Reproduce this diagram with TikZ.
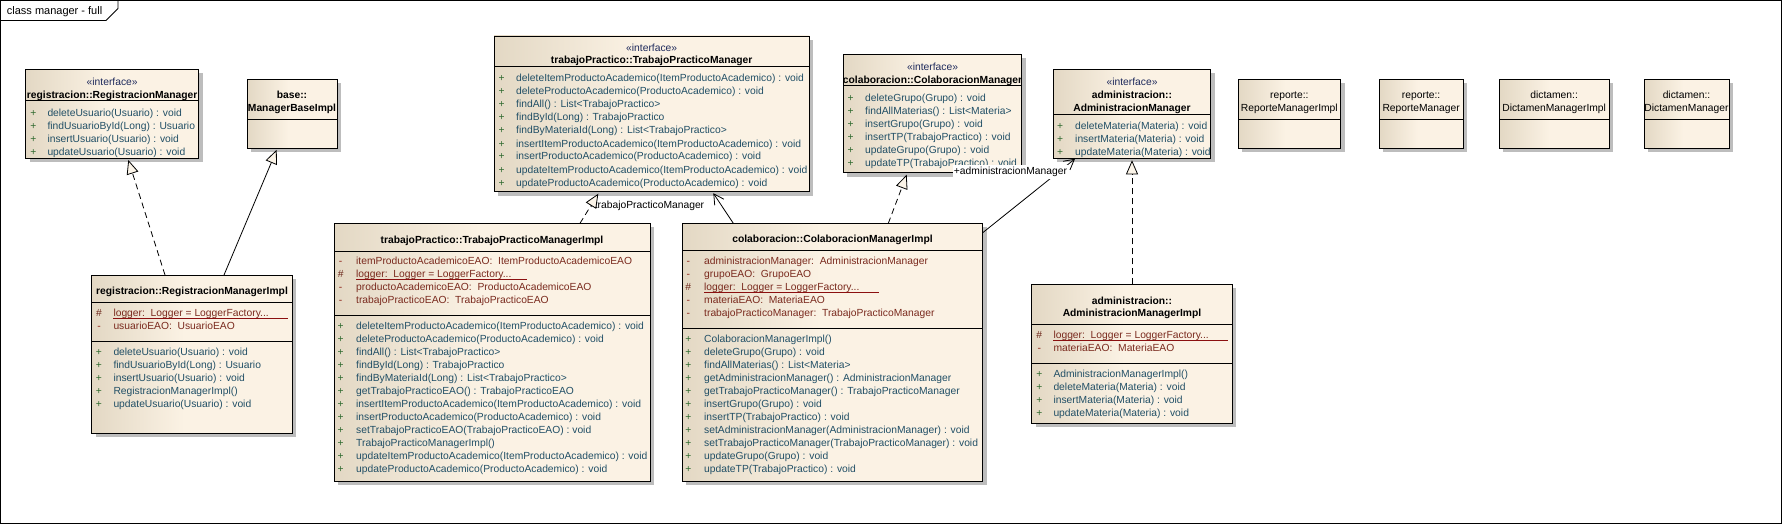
\documentclass[tikz,border=0pt]{standalone}
\usepackage{fontspec}
\setmainfont{Liberation Sans}
\usetikzlibrary{arrows.meta,calc}
\definecolor{boxL}{HTML}{E3D8C4}
\definecolor{boxR}{HTML}{FBF2E4}
\definecolor{shadowc}{HTML}{BDBDBD}
\definecolor{opc}{HTML}{214F66}
\definecolor{atc}{HTML}{7A2A1E}
\definecolor{stc}{HTML}{1E2A5C}
\definecolor{vplus}{HTML}{2F6A2F}
\definecolor{vminus}{HTML}{8E2418}
\definecolor{vhash}{HTML}{6A2418}
\definecolor{ulc}{HTML}{8B1010}
\definecolor{tipfill}{HTML}{FBF4E8}
\pgfdeclarehorizontalshading{clsshade}{100bp}{color(0bp)=(boxL); color(25bp)=(boxL); color(48bp)=(boxR); color(100bp)=(boxR)}
\newcommand\fs{\fontsize{10.3}{12}\selectfont}
\newcommand\vP{\textcolor{vplus}{+}}
\newcommand\vM{\textcolor{vminus}{-}}
\newcommand\vH{\textcolor{vhash}{\#}}
\newcommand\threedots{...}
\tikzset{
 clsbox/.style={draw=black, line width=0.9pt, shading=clsshade, inner sep=0pt, outer sep=0pt},
 sepline/.style={draw=black, line width=0.9pt},
 mem/.style={anchor=base west, inner sep=0pt, font=\fs},
 vis/.style={anchor=base, inner sep=0pt, font=\fs},
 cname/.style={anchor=base, inner sep=0pt, font=\fs\bfseries},
 pname/.style={anchor=base, inner sep=0pt, font=\fs},
 stereo/.style={anchor=base, inner sep=0pt, font=\fs, text=stc},
 real/.style={draw=black, line width=0.8pt, dash pattern=on 6pt off 4pt, -{Triangle[length=14pt,width=12pt,fill=tipfill]}},
 gen/.style={draw=black, line width=0.8pt, -{Triangle[length=14pt,width=12pt,fill=tipfill]}},
 assoc/.style={draw=black, line width=0.8pt, -{Straight Barb[length=10pt,width=11pt]}},
 role/.style={font=\fs, inner sep=0pt, anchor=base},
 ul/.style={draw=ulc, line width=0.9pt},
}
% class box: name, L, T, R, B
\newcommand\umlclass[5]{%
  \fill[shadowc] (#2+4,#3+4) rectangle (#4+4,#5+4);
  \node[clsbox, minimum width={#4-#2}, minimum height={#5-#3}, anchor=north west] (#1) at (#2,#3) {};
}
\newcommand\hsep[3]{\draw[sepline] (#1,#3) -- (#2,#3);}
% rows: prefix, visx, textx, y0, color, list
\newcommand\umlrows[6]{%
  \foreach \sy/\tx [count=\i from 0] in {#6}{%
    \node[vis] (#1v\i) at (#2,#4+13*\i+3.7) {\sy};
    \node[mem,text=#5] (#1t\i) at (#3,#4+13*\i+3.7) {\tx};
  }}
\begin{document}
\begin{tikzpicture}[x=1pt,y=-1pt]
\useasboundingbox (0,0) rectangle (1782,524);
\draw[line width=1pt] (0.5,0.5) rectangle (1781.5,523.5);
\draw[line width=0.9pt] (0,20.5) -- (106,20.5) -- (118,8.5) -- (118,0);
\node[anchor=base west, inner sep=0pt, font=\fontsize{11}{13}\selectfont] (title) at (6.7,15) {class manager - full};

% ---------- registracion::RegistracionManager
\umlclass{rm}{25.7}{69.3}{198.7}{158}
\hsep{25.7}{198.7}{100}
\node[stereo] (rms) at (112.2,82.3+3.7) {«interface»};
\node[cname] (rmn) at (112.2,95+3.7) {registracion::RegistracionManager};
\umlrows{rmo}{33.3}{47.3}{112.7}{opc}{\vP/deleteUsuario(Usuario) : void,
 \vP/findUsuarioById(Long) : Usuario,
 \vP/insertUsuario(Usuario) : void,
 \vP/updateUsuario(Usuario) : void}

% ---------- base::ManagerBaseImpl
\umlclass{mb}{247}{79.3}{337}{148.3}
\hsep{247}{337}{119.3}
\node[cname] (mbn1) at (292,95+3.7) {base::};
\node[cname] (mbn2) at (292,108.3+3.7) {ManagerBaseImpl};

% ---------- trabajoPractico::TrabajoPracticoManager
\umlclass{tpm}{494}{36}{809.3}{191.7}
\hsep{494}{809.3}{66.7}
\node[stereo] (tpms) at (651.65,48.3+3.7) {«interface»};
\node[cname] (tpmn) at (651.65,60+3.7) {trabajoPractico::TrabajoPracticoManager};
\umlrows{tpmo}{501.7}{516}{78.3}{opc}{\vP/deleteItemProductoAcademico(ItemProductoAcademico) : void,
 \vP/deleteProductoAcademico(ProductoAcademico) : void,
 \vP/findAll() : List<TrabajoPractico>,
 \vP/findById(Long) : TrabajoPractico,
 \vP/findByMateriaId(Long) : List<TrabajoPractico>,
 \vP/insertItemProductoAcademico(ItemProductoAcademico) : void,
 \vP/insertProductoAcademico(ProductoAcademico) : void,
 \vP/updateItemProductoAcademico(ItemProductoAcademico) : void,
 \vP/updateProductoAcademico(ProductoAcademico) : void}

% ---------- colaboracion::ColaboracionManager
\umlclass{cm}{843.3}{54.3}{1021.7}{172.7}
\hsep{843.3}{1021.7}{85.7}
\node[stereo] (cms) at (932.5,67.3+3.7) {«interface»};
\node[cname] (cmn) at (932.5,80+3.7) {colaboracion::ColaboracionManager};
\umlrows{cmo}{850.7}{865}{97.7}{opc}{\vP/deleteGrupo(Grupo) : void,
 \vP/findAllMaterias() : List<Materia>,
 \vP/insertGrupo(Grupo) : void,
 \vP/insertTP(TrabajoPractico) : void,
 \vP/updateGrupo(Grupo) : void,
 \vP/updateTP(TrabajoPractico) : void}

% ---------- administracion::AdministracionManager
\umlclass{am}{1053.3}{69.3}{1210.7}{158.3}
\hsep{1053.3}{1210.7}{114.7}
\node[stereo] (ams) at (1132,81.5+3.7) {«interface»};
\node[cname] (amn1) at (1132,95+3.7) {administracion::};
\node[cname] (amn2) at (1132,107.7+3.7) {AdministracionManager};
\umlrows{amo}{1060}{1075}{126}{opc}{\vP/deleteMateria(Materia) : void,
 \vP/insertMateria(Materia) : void,
 \vP/updateMateria(Materia) : void}

% ---------- empty classes
\umlclass{rpi}{1238}{79.3}{1340.7}{148.3}
\hsep{1238}{1340.7}{119.3}
\node[pname] (rpin1) at (1289.35,95+3.7) {reporte::};
\node[pname] (rpin2) at (1289.35,107.7+3.7) {ReporteManagerImpl};
\umlclass{rp}{1379}{79.3}{1463.3}{148.3}
\hsep{1379}{1463.3}{119.3}
\node[pname] (rpn1) at (1421.15,95+3.7) {reporte::};
\node[pname] (rpn2) at (1421.15,107.7+3.7) {ReporteManager};
\umlclass{dmi}{1499.3}{79.3}{1609}{148.3}
\hsep{1499.3}{1609}{119.3}
\node[pname] (dmin1) at (1554.15,95+3.7) {dictamen::};
\node[pname] (dmin2) at (1554.15,107.7+3.7) {DictamenManagerImpl};
\umlclass{dm}{1644}{79.3}{1729}{148.3}
\hsep{1644}{1729}{119.3}
\node[pname] (dmn1) at (1686.5,95+3.7) {dictamen::};
\node[pname] (dmn2) at (1686.5,107.7+3.7) {DictamenManager};

% ---------- registracion::RegistracionManagerImpl
\umlclass{rmi}{91.7}{275}{292.3}{433.3}
\hsep{91.7}{292.3}{302.3}
\hsep{91.7}{292.3}{341}
\node[cname] (rmin) at (192,291+3.7) {registracion::RegistracionManagerImpl};
\umlrows{rmia}{99}{113.3}{312.7}{atc}{\vH/logger:\ \ Logger = LoggerFactory\threedots,
 \vM/usuarioEAO:\ \ UsuarioEAO}
\draw[ul] (113.3,318.6) -- (288.3,318.6);
\umlrows{rmio}{99}{113.3}{351.7}{opc}{\vP/deleteUsuario(Usuario) : void,
 \vP/findUsuarioById(Long) : Usuario,
 \vP/insertUsuario(Usuario) : void,
 \vP/RegistracionManagerImpl(),
 \vP/updateUsuario(Usuario) : void}

% ---------- trabajoPractico::TrabajoPracticoManagerImpl
\umlclass{tpi}{334}{223.3}{650}{481}
\hsep{334}{650}{251}
\hsep{334}{650}{315}
\node[cname] (tpin) at (492,239.3+3.7) {trabajoPractico::TrabajoPracticoManagerImpl};
\umlrows{tpia}{340.7}{356}{261}{atc}{\vM/itemProductoAcademicoEAO:\ \ ItemProductoAcademicoEAO,
 \vH/logger:\ \ Logger = LoggerFactory\threedots,
 \vM/productoAcademicoEAO:\ \ ProductoAcademicoEAO,
 \vM/trabajoPracticoEAO:\ \ TrabajoPracticoEAO}
\draw[ul] (356,279.3) -- (526.7,279.3);
\umlrows{tpio}{340.7}{356}{326}{opc}{\vP/deleteItemProductoAcademico(ItemProductoAcademico) : void,
 \vP/deleteProductoAcademico(ProductoAcademico) : void,
 \vP/findAll() : List<TrabajoPractico>,
 \vP/findById(Long) : TrabajoPractico,
 \vP/findByMateriaId(Long) : List<TrabajoPractico>,
 \vP/getTrabajoPracticoEAO() : TrabajoPracticoEAO,
 \vP/insertItemProductoAcademico(ItemProductoAcademico) : void,
 \vP/insertProductoAcademico(ProductoAcademico) : void,
 \vP/setTrabajoPracticoEAO(TrabajoPracticoEAO) : void,
 \vP/TrabajoPracticoManagerImpl(),
 \vP/updateItemProductoAcademico(ItemProductoAcademico) : void,
 \vP/updateProductoAcademico(ProductoAcademico) : void}

% ---------- colaboracion::ColaboracionManagerImpl
\umlclass{cmi}{682.3}{223.3}{982.7}{481}
\hsep{682.3}{982.7}{250}
\hsep{682.3}{982.7}{328.3}
\node[cname] (cmin) at (832.5,239+3.7) {colaboracion::ColaboracionManagerImpl};
\umlrows{cmia}{688.3}{704}{261}{atc}{\vM/administracionManager:\ \ AdministracionManager,
 \vM/grupoEAO:\ \ GrupoEAO,
 \vH/logger:\ \ Logger = LoggerFactory\threedots,
 \vM/materiaEAO:\ \ MateriaEAO,
 \vM/trabajoPracticoManager:\ \ TrabajoPracticoManager}
\draw[ul] (704,292) -- (879,292);
\umlrows{cmio}{688.3}{704}{338.3}{opc}{\vP/ColaboracionManagerImpl(),
 \vP/deleteGrupo(Grupo) : void,
 \vP/findAllMaterias() : List<Materia>,
 \vP/getAdministracionManager() : AdministracionManager,
 \vP/getTrabajoPracticoManager() : TrabajoPracticoManager,
 \vP/insertGrupo(Grupo) : void,
 \vP/insertTP(TrabajoPractico) : void,
 \vP/setAdministracionManager(AdministracionManager) : void,
 \vP/setTrabajoPracticoManager(TrabajoPracticoManager) : void,
 \vP/updateGrupo(Grupo) : void,
 \vP/updateTP(TrabajoPractico) : void}

% ---------- administracion::AdministracionManagerImpl
\umlclass{ami}{1031.7}{284.3}{1232.3}{423.3}
\hsep{1031.7}{1232.3}{324.3}
\hsep{1031.7}{1232.3}{363.3}
\node[cname] (amin1) at (1132,300.7+3.7) {administracion::};
\node[cname] (amin2) at (1132,312.7+3.7) {AdministracionManagerImpl};
\umlrows{amia}{1039.3}{1053.3}{334.3}{atc}{\vH/logger:\ \ Logger = LoggerFactory\threedots,
 \vM/materiaEAO:\ \ MateriaEAO}
\draw[ul] (1053.3,340.2) -- (1227.7,340.2);
\umlrows{amio}{1039.3}{1053.3}{373.3}{opc}{\vP/AdministracionManagerImpl(),
 \vP/deleteMateria(Materia) : void,
 \vP/insertMateria(Materia) : void,
 \vP/updateMateria(Materia) : void}

% ---------- connectors
\draw[real] ($(rmi.north west)+(73.3,0)$) -- ($(rm.south west)+(102.6,2)$);
\draw[gen] ($(rmi.north west)+(132.3,0)$) -- ($(mb.south west)+(29.7,1.5)$);
\draw[assoc] ($(cmi.north west)+(51,0)$) -- ($(tpm.south west)+(219.3,1.5)$);
\node[role] (lbtp) at (646.5,205+3.7) {+trabajoPracticoManager};
\draw[real] ($(tpi.north west)+(246,0)$) -- ($(tpm.south west)+(104.3,2)$);
\draw[real] ($(cmi.north west)+(206,0)$) -- ($(cm.south west)+(63.4,2)$);
\draw[assoc] ($(cmi.north east)+(0,9.4)$) -- ($(am.south west)+(21.7,0.5)$);
\node[role, fill=white, inner xsep=1pt, inner ysep=2.5pt] (lbam) at (1010.5,171+3.7) {+administracionManager};
\draw[real] ($(ami.north west)+(100.3,0)$) -- ($(am.south west)+(78.7,2)$);
\end{tikzpicture}
\end{document}
